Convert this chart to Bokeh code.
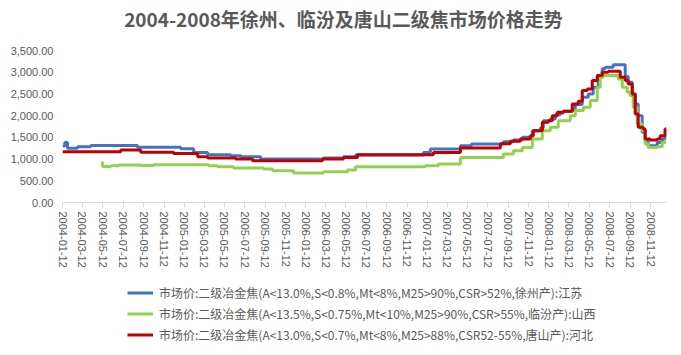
import pandas as pd
from bokeh.plotting import figure
from bokeh.layouts import column
from bokeh.models import (ColumnDataSource, Range1d, FixedTicker, NumeralTickFormatter,
                          DatetimeTickFormatter, Legend, LegendItem, Label)
from bokeh.embed import file_html
from bokeh.resources import INLINE

title_text = "2004-2008年徐州、临汾及唐山二级焦市场价格走势"

xuzhou_dates = ["2004-01-12", "2004-01-19", "2004-01-27", "2004-02-26", "2004-04-06", "2004-08-24",
                "2005-01-01", "2005-02-09", "2005-03-23", "2005-05-31", "2005-07-01", "2005-08-29",
                "2006-03-06", "2006-05-05", "2006-06-10", "2006-12-31", "2007-01-21", "2007-04-21",
                "2007-05-24", "2007-08-28", "2007-09-27", "2007-10-24", "2007-11-23", "2007-12-17",
                "2007-12-26", "2008-01-16", "2008-01-31", "2008-02-15", "2008-02-24", "2008-03-22",
                "2008-03-31", "2008-04-21", "2008-05-09", "2008-05-24", "2008-06-08", "2008-06-20",
                "2008-06-29", "2008-07-23", "2008-08-28", "2008-09-06", "2008-09-18", "2008-09-27",
                "2008-10-06", "2008-10-18", "2008-10-27", "2008-11-05", "2008-12-02", "2008-12-17",
                "2008-12-26", "2008-12-29"]
xuzhou_vals = [1300, 1380, 1250, 1285, 1310, 1270,
               1235, 1150, 1100, 1077, 1055, 1000,
               1024, 1054, 1093, 1150, 1232, 1308,
               1347, 1400, 1439, 1500, 1654, 1716,
               1885, 1924, 2023, 2060, 2100, 2155,
               2254, 2423, 2500, 2653, 2923, 3077,
               3115, 3170, 2900, 2768, 2500, 2270,
               2000, 1615, 1423, 1308, 1384, 1462,
               1693, 1693]

linfen_dates = ["2004-05-08", "2004-05-11", "2004-06-05", "2004-06-29", "2004-09-03", "2004-10-12",
                "2005-03-26", "2005-04-22", "2005-06-09", "2005-09-07", "2005-10-04", "2005-12-06",
                "2006-03-06", "2006-05-17", "2006-06-10", "2007-01-06", "2007-02-14", "2007-04-21",
                "2007-08-28", "2007-09-27", "2007-10-24", "2007-11-23", "2007-12-23", "2008-01-16",
                "2008-02-09", "2008-03-16", "2008-03-31", "2008-04-24", "2008-05-15", "2008-06-05",
                "2008-06-14", "2008-06-23", "2008-08-07", "2008-08-19", "2008-09-03", "2008-09-12",
                "2008-09-21", "2008-10-03", "2008-10-18", "2008-10-27", "2008-11-05", "2008-12-02",
                "2008-12-17", "2008-12-26", "2008-12-29"]
linfen_vals = [920, 830, 847, 865, 850, 868,
               847, 824, 794, 770, 731, 680,
               708, 750, 824, 847, 886, 1039,
               1116, 1193, 1269, 1462, 1654, 1731,
               1885, 2000, 2116, 2192, 2346, 2653,
               2884, 2923, 2846, 2653, 2538, 2462,
               2192, 1808, 1654, 1347, 1269, 1285,
               1384, 1423, 1423]

tangshan_dates = ["2004-01-12", "2004-07-05", "2004-09-03", "2004-12-11", "2005-02-21", "2005-03-23",
                  "2005-06-15", "2005-08-05", "2006-03-03", "2006-05-05", "2006-06-16", "2007-01-30",
                  "2007-04-21", "2007-08-19", "2007-09-18", "2007-10-18", "2007-11-17", "2007-11-26",
                  "2007-12-23", "2008-01-10", "2008-01-22", "2008-02-06", "2008-02-24", "2008-03-22",
                  "2008-04-09", "2008-04-21", "2008-05-06", "2008-05-21", "2008-06-05", "2008-06-20",
                  "2008-07-08", "2008-08-13", "2008-08-28", "2008-09-06", "2008-09-18", "2008-09-27",
                  "2008-10-06", "2008-10-21", "2008-10-27", "2008-11-11", "2008-12-02", "2008-12-11",
                  "2008-12-26", "2008-12-29"]
tangshan_vals = [1170, 1209, 1155, 1130, 1054, 1024,
                 1000, 962, 1000, 1039, 1100, 1153,
                 1255, 1350, 1408, 1462, 1539, 1654,
                 1846, 1885, 2000, 2077, 2100, 2270,
                 2331, 2577, 2616, 2808, 2923, 3000,
                 3023, 2884, 2808, 2731, 2500, 2039,
                 1731, 1693, 1462, 1439, 1462, 1539,
                 1693, 1693]

series_names = [
    "市场价:二级冶金焦(A<13.0%,S<0.8%,Mt<8%,M25>90%,CSR>52%,徐州产):江苏",
    "市场价:二级冶金焦(A<13.5%,S<0.75%,Mt<10%,M25>90%,CSR>55%,临汾产):山西",
    "市场价:二级冶金焦(A<13.0%,S<0.7%,Mt<8%,M25>88%,CSR52-55%,唐山产):河北",
]
series_colors = ["#4472C4", "#92D050", "#C00000"]

tick_dates = ["2004-01-12", "2004-03-12", "2004-05-12", "2004-07-12", "2004-09-12", "2004-11-12",
              "2005-01-12", "2005-03-12", "2005-05-12", "2005-07-12", "2005-09-12", "2005-11-12",
              "2006-01-12", "2006-03-12", "2006-05-12", "2006-07-12", "2006-09-12", "2006-11-12",
              "2007-01-12", "2007-03-12", "2007-05-12", "2007-07-12", "2007-09-12", "2007-11-12",
              "2008-01-12", "2008-03-12", "2008-05-12", "2008-07-12", "2008-09-12", "2008-11-12"]
y_ticks = [0, 500, 1000, 1500, 2000, 2500, 3000, 3500]

TEXT = "#595959"


def blank(h):
    f = figure(width=681, height=h, output_backend="svg", toolbar_location=None,
               x_axis_location=None, y_axis_location=None,
               x_range=Range1d(0, 1), y_range=Range1d(0, 1),
               min_border_left=0, min_border_right=0, min_border_top=0, min_border_bottom=0)
    f.outline_line_color = None
    f.xgrid.grid_line_color = None
    f.ygrid.grid_line_color = None
    return f


# header with the title
head = blank(40)
head.add_layout(Label(x=281, y=22, x_units="screen", y_units="screen", text=title_text,
                      text_align="center", text_baseline="middle",
                      text_font="Noto Sans CJK SC", text_font_size="19px",
                      text_font_style="bold", text_color=TEXT))

p = figure(width=681, height=235, output_backend="svg", toolbar_location=None,
           x_axis_type="datetime",
           x_range=Range1d(pd.Timestamp("2004-01-12"), pd.Timestamp("2008-12-30")),
           y_range=Range1d(0, 3500),
           min_border_left=62, min_border_right=15, min_border_top=10, min_border_bottom=73)
p.outline_line_color = None
p.xgrid.grid_line_color = None
p.ygrid.grid_line_color = None

# y axis
p.yaxis.ticker = FixedTicker(ticks=y_ticks)
p.yaxis.formatter = NumeralTickFormatter(format="0,0.00")
p.yaxis.axis_line_color = None
p.yaxis.major_tick_line_color = None
p.yaxis.minor_tick_line_color = None
p.yaxis.major_tick_out = 0
p.yaxis.major_label_standoff = 9
p.yaxis.major_label_text_font = "Liberation Sans"
p.yaxis.major_label_text_font_size = "11px"
p.yaxis.major_label_text_color = TEXT

# x axis
tick_ms = [pd.Timestamp(d).value // 10**6 for d in tick_dates]
p.xaxis.ticker = FixedTicker(ticks=tick_ms)
fmt = "%Y-%m-%d"
p.xaxis.formatter = DatetimeTickFormatter(days=fmt, months=fmt, years=fmt, hours=fmt,
                                          minutes=fmt, seconds=fmt, milliseconds=fmt,
                                          microseconds=fmt, minsec=fmt, hourmin=fmt)
p.xaxis.major_label_orientation = "vertical"
p.xaxis.axis_line_color = "#D9D9D9"
p.xaxis.major_tick_line_color = "#D9D9D9"
p.xaxis.major_tick_in = 0
p.xaxis.major_tick_out = 5
p.xaxis.minor_tick_line_color = None
p.xaxis.major_label_standoff = 4
p.xaxis.major_label_text_font = "Liberation Sans"
p.xaxis.major_label_text_font_size = "11px"
p.xaxis.major_label_text_color = TEXT

sources = []
for dates, vals, color in [(xuzhou_dates, xuzhou_vals, series_colors[0]),
                           (linfen_dates, linfen_vals, series_colors[1]),
                           (tangshan_dates, tangshan_vals, series_colors[2])]:
    src = ColumnDataSource(dict(x=pd.to_datetime(dates), y=vals))
    sources.append(src)
    p.step(x="x", y="y", source=src, mode="after", line_color=color, line_width=3)

# legend panel below the chart (same series, out of its view, only used by the legend)
lg = blank(80)
legend_renderers = []
for src, color in zip(sources, series_colors):
    legend_renderers.append(lg.line(x="x", y="y", source=src, line_color=color, line_width=3))

legend = Legend(items=[LegendItem(label=n, renderers=[r]) for n, r in zip(series_names, legend_renderers)],
                location=(65, 12), orientation="vertical",
                label_text_font="Noto Sans CJK SC", label_text_font_size="12px",
                label_text_color=TEXT, glyph_width=26, glyph_height=15, label_height=15,
                label_standoff=6, spacing=4, padding=0, margin=0,
                border_line_color=None, background_fill_alpha=0)
lg.add_layout(legend, "center")

layout = column(head, p, lg, spacing=0)
open("out.html", "w").write(file_html(layout, INLINE))
